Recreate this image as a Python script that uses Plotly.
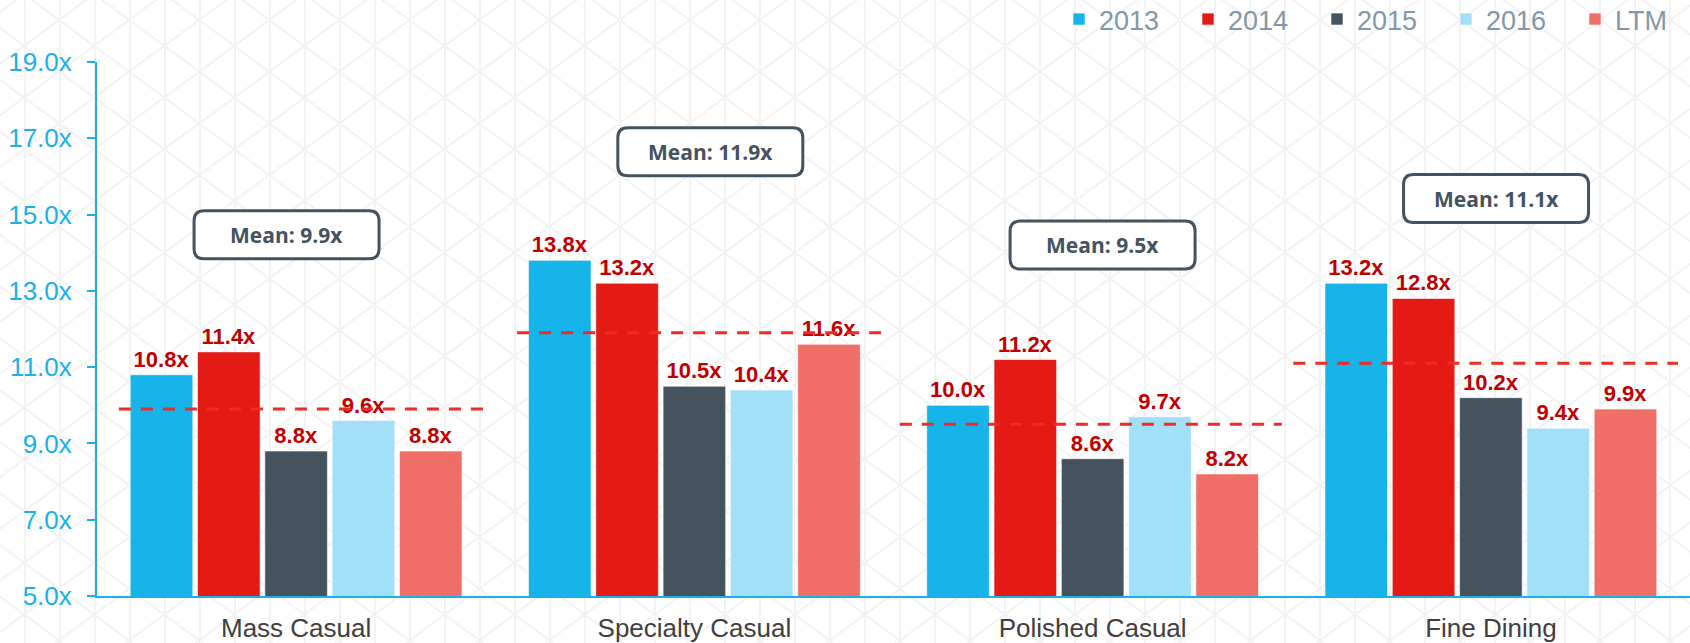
import numpy as np
import plotly.graph_objects as go

categories = ["Mass Casual", "Specialty Casual", "Polished Casual", "Fine Dining"]
series_names = ["2013", "2014", "2015", "2016", "LTM"]
v2013 = [10.8, 13.8, 10.0, 13.2]
v2014 = [11.4, 13.2, 11.2, 12.8]
v2015 = [8.8, 10.5, 8.6, 10.2]
v2016 = [9.6, 10.4, 9.7, 9.4]
vLTM = [8.8, 11.6, 8.2, 9.9]
means = [9.9, 11.9, 9.5, 11.1]
y_ticks = [5, 7, 9, 11, 13, 15, 17, 19]

series_values = [v2013, v2014, v2015, v2016, vLTM]
colors = ["#16b4e9", "#e31b14", "#44535e", "#a2e0f7", "#f06e68"]

W, H = 1690, 643
ML, MR, MT, MB = 97, 0, 62, 47
PW, PH = W - ML - MR, H - MT - MB


def px2paper(px, py):
    return (px - ML) / PW, (H - MB - py) / PH


fig = go.Figure()
for name, vals, col in zip(series_names, series_values, colors):
    fig.add_trace(go.Bar(
        x=categories, y=vals, name=name,
        marker=dict(color=col, line=dict(color="rgba(255,255,255,0.6)", width=1)),
        texttemplate="%{y:.1f}x", textposition="outside",
        textfont=dict(family="Liberation Sans, Arial", size=22, color="#c00000", weight="bold"),
        constraintext="none", cliponaxis=False,
    ))

shapes = []

# background triangular lattice pattern
pat = dict(color="#f3f3f3", width=2)
segs = []
for k in range(0, 50):
    x = 25 + 35 * k
    x0, y0 = px2paper(x, -5)
    x1, y1 = px2paper(x, H + 5)
    segs.append(f"M{x0:.5f},{y0:.5f}L{x1:.5f},{y1:.5f}")
shapes.append(dict(type="path", xref="paper", yref="paper", path="".join(segs), line=pat, layer="below"))
s, P, ax, ay = 0.738, 51.7, 1180, 71.7
for sign, krange in ((1, range(-10, 30)), (-1, range(-20, 21))):
    segs = []
    for k in krange:
        xa, xb = -10, W + 10
        ya = ay + sign * s * (xa - ax) + k * P
        yb = ay + sign * s * (xb - ax) + k * P
        x0, y0 = px2paper(xa, ya)
        x1, y1 = px2paper(xb, yb)
        segs.append(f"M{x0:.5f},{y0:.5f}L{x1:.5f},{y1:.5f}")
    shapes.append(dict(type="path", xref="paper", yref="paper", path="".join(segs), line=pat, layer="below"))

# mean dashed lines
extents = [(-0.445, 0.48), (-0.445, 0.475), (-0.484, 0.475), (-0.496, 0.47)]
for i, (m, (a, b)) in enumerate(zip(means, extents)):
    shapes.append(dict(type="line", xref="x", yref="y", x0=i + a, x1=i + b, y0=m, y1=m,
                       line=dict(color="#ee2b24", width=3, dash="12px,10px"), layer="above"))

# mean boxes (rounded)
box_pos = [(-0.024, 14.47), (1.04, 16.65), (2.025, 14.2), (3.013, 15.42)]
hw, hh, r = 92.5, 24, 10
rpath = (f"M{-hw + r},{-hh} L{hw - r},{-hh} Q{hw},{-hh} {hw},{-hh + r} L{hw},{hh - r} "
         f"Q{hw},{hh} {hw - r},{hh} L{-hw + r},{hh} Q{-hw},{hh} {-hw},{hh - r} "
         f"L{-hw},{-hh + r} Q{-hw},{-hh} {-hw + r},{-hh} Z")
annotations = []
for m, (bx, by) in zip(means, box_pos):
    shapes.append(dict(type="path", xref="x", yref="y", xsizemode="pixel", ysizemode="pixel",
                       xanchor=bx, yanchor=by, path=rpath, fillcolor="white",
                       line=dict(color="#44535e", width=3), layer="above"))
    annotations.append(dict(x=bx, y=by, xref="x", yref="y", text=f"Mean: {m:.1f}x", showarrow=False,
                            font=dict(family="Open Sans", size=21, color="#44535e", weight="bold"),
                            xanchor="center", yanchor="middle"))

axis_col = "#1ab1e7"
lx, ly = px2paper(1059, 19.5)
fig.update_layout(
    width=W, height=H,
    margin=dict(l=ML, r=MR, t=MT, b=MB, autoexpand=False),
    paper_bgcolor="white", plot_bgcolor="rgba(0,0,0,0)",
    barmode="group", bargap=0.155, bargroupgap=0.07,
    shapes=shapes, annotations=annotations,
    showlegend=True,
    legend=dict(orientation="h", x=lx, y=ly, xanchor="left", yanchor="middle",
                bgcolor="rgba(0,0,0,0)", entrywidth=84, entrywidthmode="pixels",
                font=dict(family="Liberation Sans, Arial", size=27, color="#8497a8")),
    xaxis=dict(type="category", showline=True, linecolor=axis_col, linewidth=2, ticks="",
               showgrid=False, zeroline=False, ticklabelstandoff=8,
               tickfont=dict(family="Liberation Sans, Arial", size=26, color="#404040")),
    yaxis=dict(range=[5, 19], tickvals=y_ticks, ticktext=[f"{t:.1f}x" for t in y_ticks],
               showline=True, linecolor=axis_col, linewidth=2, ticks="outside", ticklen=8,
               tickcolor=axis_col, tickwidth=2, showgrid=False, zeroline=False,
               ticklabelstandoff=10,
               tickfont=dict(family="Liberation Sans, Arial", size=26, color=axis_col)),
)

fig.write_html("out.html", config={"displayModeBar": False},
               post_script="document.body.style.margin='0';")
